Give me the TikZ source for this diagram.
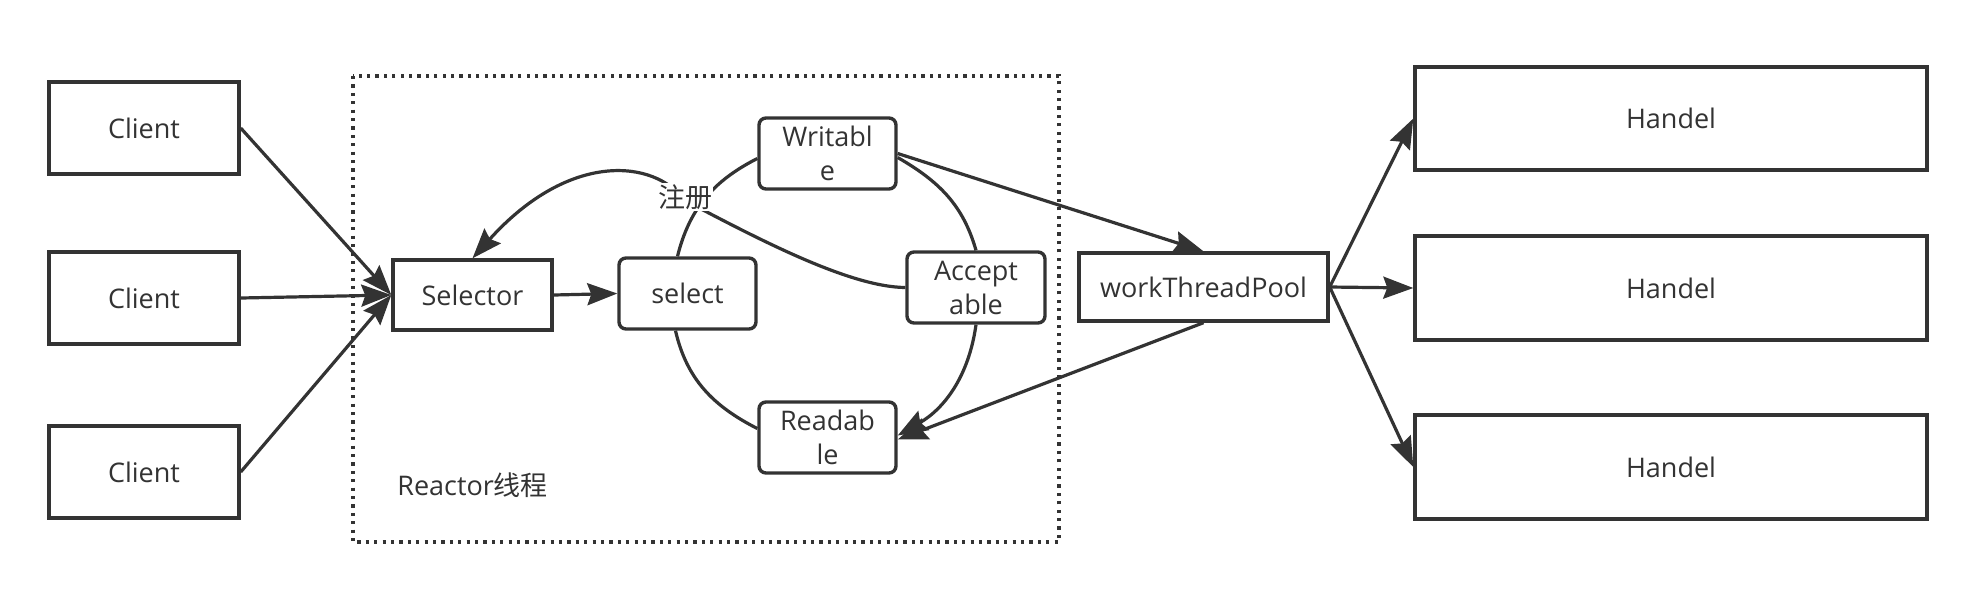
\documentclass[tikz,border=0pt]{standalone}
\usepackage{fontspec}
\setmainfont{Open Sans}
\newfontfamily\cjk{Noto Sans CJK SC}
\usetikzlibrary{arrows.meta}
\definecolor{ink}{HTML}{333333}
\begin{document}
\begin{tikzpicture}[x=0.5pt,y=0.5pt,
  every node/.style={text=ink,font=\fontsize{13.5}{17}\selectfont},
  box/.style={draw=ink,line width=1.7pt,inner sep=0pt,align=center},
  rbox/.style={box,rounded corners=3.5pt},
  arr/.style={draw=ink,line width=1.6pt,-{Stealth[length=15pt,width=11pt,inset=2pt]}},
  ln/.style={draw=ink,line width=1.6pt}
]
\useasboundingbox (0,0) rectangle (1976,-591);
% dotted frame
\draw[ink,line width=1.6pt,dash pattern=on 1.6pt off 2.6pt] (353,-76) rectangle (1059,-542);
\node[anchor=west,inner sep=0pt] (rlab) at (397,-485) {Reactor{\cjk 线程}};
% clients
\node[box,minimum width=95pt,minimum height=46pt] (c1) at (144,-128) {Client};
\node[box,minimum width=95pt,minimum height=46pt] (c2) at (144,-298) {Client};
\node[box,minimum width=95pt,minimum height=46pt] (c3) at (144,-472) {Client};
% reactor
\node[box,minimum width=79.5pt,minimum height=35pt] (sel) at (472.5,-295) {Selector};
\node[rbox,minimum width=68.5pt,minimum height=35.5pt] (slt) at (687.5,-293.5) {select};
\node[rbox,minimum width=68.5pt,minimum height=35.5pt] (wr) at (827.5,-153.5) {Writabl\\e};
\node[rbox,minimum width=69pt,minimum height=35.5pt] (ac) at (976,-287.5) {Accept\\able};
\node[rbox,minimum width=68.5pt,minimum height=35.5pt] (rd) at (827.5,-437.5) {Readab\\le};
% pool and handlers
\node[box,minimum width=124.5pt,minimum height=34pt] (pool) at (1203.5,-287) {workThreadPool};
\node[box,minimum width=256pt,minimum height=51.5pt] (h1) at (1671,-118.5) {Handel};
\node[box,minimum width=256pt,minimum height=52pt] (h2) at (1671,-288) {Handel};
\node[box,minimum width=256pt,minimum height=52pt] (h3) at (1671,-467) {Handel};
% client arrows
\draw[arr] (c1.east) -- (sel.west);
\draw[arr] (c2.east) -- (sel.west);
\draw[arr] (c3.east) -- (sel.west);
\draw[arr] (sel.east) -- (slt.west);
% circle arcs
\draw[ln] ([xshift=-5pt]slt.north) to[out=76,in=207] ([yshift=-2.5pt]wr.west);
\draw[ln] ([yshift=-2pt]wr.east) to[out=-30,in=106] (ac.north);
\draw[arr] (ac.south) to[out=-98,in=30] ([yshift=1pt]rd.east);
\draw[ln] ([xshift=-6pt]slt.south) to[out=-77,in=153] ([yshift=4.5pt]rd.west);
% register curve
\draw[arr] (ac.west) .. controls (850,-287) and (760,-240) .. (684,-200)
  .. controls (655,-160) and (570,-150) .. (sel.north);
\node[fill=white,inner sep=0.5pt,font=\cjk\fontsize{13.5}{17}\selectfont] (reg) at (685,-197) {注册};
% pool arrows
\draw[arr] (wr.east) -- (pool.north);
\draw[arr] (pool.south) -- ([yshift=-1pt]rd.east);
\draw[arr] (pool.east) -- (h1.west);
\draw[arr] (pool.east) -- (h2.west);
\draw[arr] (pool.east) -- (h3.west);
\end{tikzpicture}
\end{document}
